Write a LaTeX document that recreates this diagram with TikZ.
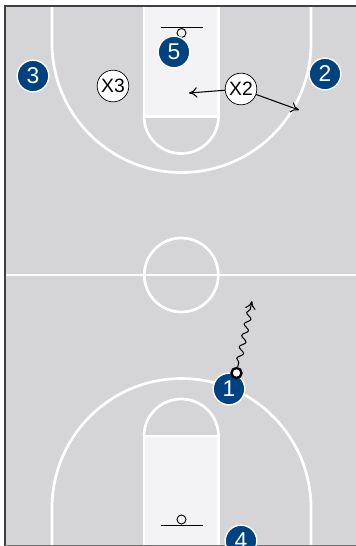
\documentclass[tikz,border=0pt]{standalone}
\usepackage{fontspec}
\setmainfont{Liberation Sans}
\usetikzlibrary{arrows.meta,decorations.pathmorphing}
\definecolor{courtgray}{HTML}{D5D5D8}
\definecolor{keygray}{HTML}{F3F3F5}
\definecolor{teamblue}{HTML}{00427F}
\tikzset{
  courtline/.style={draw=white, line width=2.3pt},
  offense/.style={circle, draw=white, line width=1.2pt, fill=teamblue, text=white, minimum size=0.95cm, inner sep=0pt, font=\fontsize{19.5}{19.5}\selectfont},
  defense/.style={circle, draw=black, line width=0.6pt, fill=white, minimum size=0.95cm, inner sep=0pt, font=\fontsize{16.5}{16.5}\selectfont},
  ball/.style={circle, draw=black, line width=2pt, fill=white, minimum size=0.3cm, inner sep=0pt},
  cutarrow/.style={draw=black, line width=0.9pt, -{To[length=7pt,width=9pt]}},
  dribble/.style={draw=black, line width=0.9pt, -{To[length=7pt,width=9pt]}, decorate, decoration={snake, amplitude=2.4pt, segment length=10pt, pre length=4pt, post length=7pt}}
}
\begin{document}
\begin{tikzpicture}[x=0.03cm, y=-0.03cm]
  \useasboundingbox (0,0) rectangle (356,546);
  \begin{scope}
    \clip (0,0) rectangle (356,546);
    \fill[courtgray] (5,6) rectangle (356,546);
    % keys
    \fill[keygray] (144,6) rectangle (218.5,116.5);
    \fill[keygray] (144,436) rectangle (218.5,546);
    \draw[courtline] (144,6) -- (144,116.5) -- (218.5,116.5) -- (218.5,6);
    \draw[courtline] (144,546) -- (144,436) -- (218.5,436) -- (218.5,546);
    \draw[courtline] (144,116.5) arc[start angle=180, end angle=360, x radius=37.25, y radius=-37];
    \draw[courtline] (144,436) arc[start angle=180, end angle=0, x radius=37.25, y radius=-37];
    % three point lines
    \draw[courtline] (52,6) -- (52,43) arc[start angle=180, end angle=360, x radius=129.5, y radius=-129.5] -- (311,6);
    \draw[courtline] (52,546) -- (52,508) arc[start angle=180, end angle=0, x radius=129.5, y radius=-129.5] -- (311,546);
    % half court
    \draw[courtline] (5,275) -- (356,275);
    \draw[courtline] (181.3,275) circle[radius=37];
    % baskets
    \draw[black, line width=0.8pt] (161,27) -- (203,27);
    \draw[black, line width=0.8pt] (181.5,33) circle[radius=4.5];
    \draw[black, line width=0.8pt] (161,525) -- (203,525);
    \draw[black, line width=0.8pt] (181.5,519.5) circle[radius=4.5];
    % frame
    \draw[black!75, line width=1.2pt] (356,6) -- (5,6) -- (5,546);
    \draw[black!55, line width=1pt] (5,545.5) -- (356,545.5);
    % players
    \node[offense] (p5) at (174,52) {5};
    \node[offense] (p3) at (33,76) {3};
    \node[offense] (p2) at (325,74) {2};
    \node[offense] (p1) at (229,389) {1};
    \node[offense] (p4) at (241,541) {4};
    \node[defense] (x3) at (113,86) {X3};
    \node[defense] (x2) at (241,89) {X2};
    \node[ball] (bb) at (236.5,373) {};
    % movement
    \coordinate (helpspot) at (189,93);
    \coordinate (wingspot) at (299,110);
    \coordinate (drivespot) at (252,301);
    \draw[cutarrow] (x2) -- (helpspot);
    \draw[cutarrow] (x2) -- (wingspot);
    \draw[dribble] (bb) -- (drivespot);
  \end{scope}
\end{tikzpicture}
\end{document}
